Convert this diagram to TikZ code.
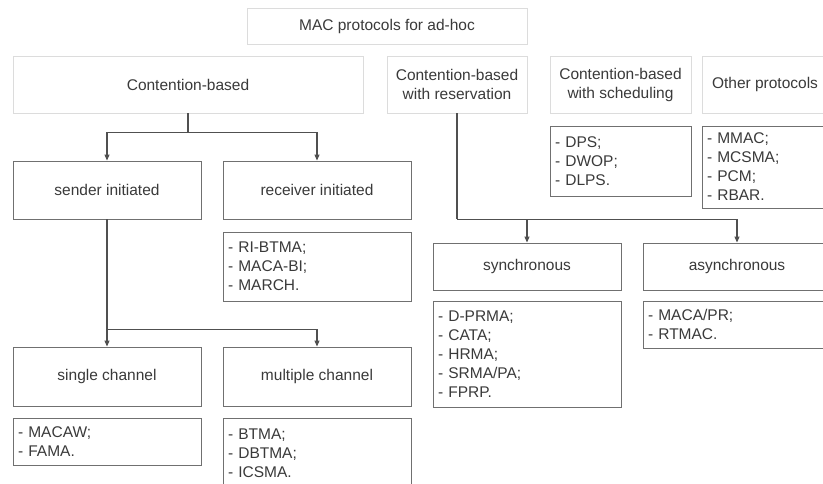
\documentclass[tikz,border=0pt]{standalone}
\usepackage{fontspec}
\setmainfont{Liberation Sans}
\usetikzlibrary{arrows.meta}
\definecolor{light}{HTML}{DCDCDC}
\definecolor{dark}{HTML}{707070}
\definecolor{txt}{HTML}{3A3A3A}
\definecolor{conn}{HTML}{505050}
\newcommand{\diagfont}{\fontsize{15.5}{19}\selectfont}
\begin{document}
\begin{tikzpicture}[x=1pt,y=-1pt,
  base/.style={rectangle, inner sep=0pt, font=\diagfont, text=txt, align=center, line width=0.9pt},
  topbox/.style={base, draw=light},
  lowbox/.style={base, draw=dark},
  listbox/.style={lowbox, align=left, inner xsep=5pt},
  conn/.style={draw=conn, line width=1.1pt},
  arr/.style={conn, -{Triangle[length=6pt,width=5pt]}}]
\useasboundingbox (0,0) rectangle (823,484);
\clip (0,0) rectangle (823,484);
\fill[white] (0,0) rectangle (823,484);
% top level
\node[topbox, minimum width=280pt, minimum height=36pt] (root) at (387,26) {MAC protocols for ad-hoc};
\node[topbox, minimum width=350pt, minimum height=57pt] (cb) at (188,84.5) {Contention-based};
\node[topbox, minimum width=140pt, minimum height=57pt] (cbr) at (457,84.5) {Contention-based\\with reservation};
\node[topbox, minimum width=141pt, minimum height=57pt] (cbs) at (620.5,84.5) {Contention-based\\with scheduling};
\node[topbox, minimum width=126pt, minimum height=57pt] (other) at (765,84.5) {Other protocols};
% contention-based subtree
\node[lowbox, minimum width=188pt, minimum height=58pt] (si) at (107,190) {sender initiated};
\node[lowbox, minimum width=188pt, minimum height=58pt] (ri) at (317,190) {receiver initiated};
\node[listbox, text width=178pt, minimum height=69pt] (rilist) at (317,266.5) {- RI-BTMA;\\- MACA-BI;\\- MARCH.};
\node[lowbox, minimum width=188pt, minimum height=59pt] (sc) at (107,376.5) {single channel};
\node[lowbox, minimum width=188pt, minimum height=59pt] (mc) at (317,376.5) {multiple channel};
\node[listbox, text width=178pt, minimum height=47pt] (sclist) at (107,441.5) {- MACAW;\\- FAMA.};
\node[listbox, text width=178pt, minimum height=70pt] (mclist) at (317,453) {- BTMA;\\- DBTMA;\\- ICSMA.};
% reservation subtree
\node[lowbox, minimum width=188pt, minimum height=47pt] (sync) at (527,266.5) {synchronous};
\node[lowbox, minimum width=188pt, minimum height=47pt] (async) at (737,266.5) {asynchronous};
\node[listbox, text width=178pt, minimum height=106pt] (synclist) at (527,354) {- D-PRMA;\\- CATA;\\- HRMA;\\- SRMA/PA;\\- FPRP.};
\node[listbox, text width=178pt, minimum height=47pt] (asynclist) at (737,324.5) {- MACA/PR;\\- RTMAC.};
% scheduling and other lists
\node[listbox, text width=131pt, minimum height=70pt] (dps) at (620.5,161) {- DPS;\\- DWOP;\\- DLPS.};
\node[listbox, text width=116pt, minimum height=82pt] (mmac) at (765,167) {- MMAC;\\- MCSMA;\\- PCM;\\- RBAR.};
% connectors
\draw[conn] (cb.south) -- ++(0,19) coordinate (j1);
\draw[arr] (j1) -| (si.north);
\draw[arr] (j1) -| (ri.north);
\draw[conn] (si.south) -- ++(0,110) coordinate (j2);
\draw[arr] (j2) -| (sc.north);
\draw[arr] (j2) -| (mc.north);
\draw[conn] (cbr.south) -- ++(0,106) coordinate (j3);
\draw[arr] (j3) -| (sync.north);
\draw[arr] (j3) -| (async.north);
\end{tikzpicture}
\end{document}
